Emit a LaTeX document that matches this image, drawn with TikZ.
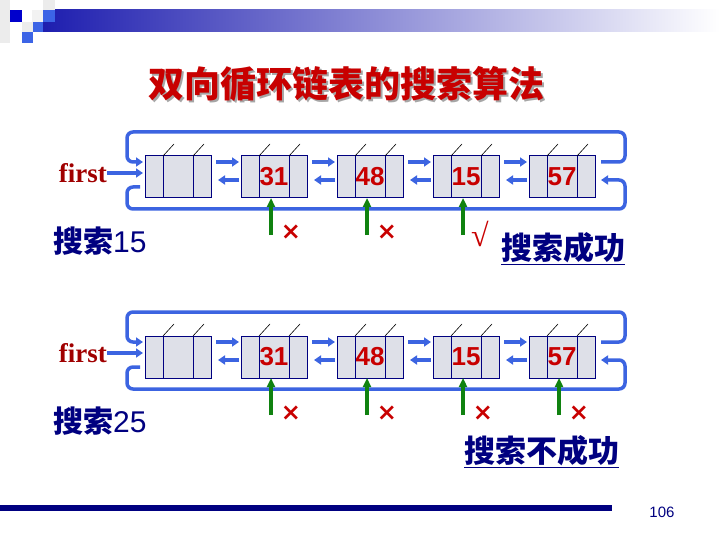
\documentclass[tikz,border=0pt]{standalone}
\usepackage{fontspec}
\setmainfont{Liberation Sans}
\newfontfamily\cjk{Noto Sans CJK SC}
\newfontfamily\timesb{Liberation Serif}
\newfontfamily\symb{DejaVu Sans}
\usepackage{xcolor}
\usetikzlibrary{arrows.meta,positioning,calc}

\definecolor{lnk}{RGB}{60,100,225}
\definecolor{navy}{RGB}{0,0,128}
\definecolor{hit}{RGB}{200,0,0}
\definecolor{fred}{RGB}{160,0,0}
\definecolor{pgreen}{RGB}{16,130,16}
\definecolor{marble}{RGB}{222,224,232}
\definecolor{hdr}{RGB}{30,30,175}
\definecolor{sqblue}{RGB}{60,100,230}

\begin{document}
\begin{tikzpicture}[
  x=1pt, y=-1pt,
  node distance=30pt,
  lnode/.style={draw=navy, line width=1pt, fill=marble, minimum width=66pt, minimum height=42pt, inner sep=0pt, outer sep=0pt, text=hit, font=\bfseries\fontsize{26}{26}\selectfont,
    append after command={([xshift=18pt]\tikzlastnode.north west) edge[draw=navy, line width=1pt] ([xshift=18pt]\tikzlastnode.south west)
      ([xshift=-18pt]\tikzlastnode.north east) edge[draw=navy, line width=1pt] ([xshift=-18pt]\tikzlastnode.south east)
      ([xshift=18pt]\tikzlastnode.north west) edge[draw, line width=.6pt] ([xshift=29pt,yshift=12pt]\tikzlastnode.north west)
      ([xshift=-18pt]\tikzlastnode.north east) edge[draw, line width=.6pt] ([xshift=-7pt,yshift=12pt]\tikzlastnode.north east)}},
  link/.style={draw=lnk, line width=3.5pt, -{Triangle[length=7pt,width=9pt]}},
  ring/.style={link, rounded corners=6pt},
  probe/.style={draw=pgreen, line width=3.5pt, -{Triangle[length=9pt,width=8pt]}},
  miss/.style={text=hit, font=\symb\bfseries\fontsize{24}{24}\selectfont, inner sep=0pt},
  found/.style={text=hit, font=\timesb\fontsize{32}{32}\selectfont, inner sep=0pt},
  firstlbl/.style={text=fred, font=\timesb\bfseries\fontsize{27}{27}\selectfont, inner sep=0pt},
  keylbl/.style={text=navy, font=\fontsize{30}{30}\selectfont, inner sep=0pt},
  reslbl/.style={text=navy, font=\cjk\bfseries\fontsize{31}{31}\selectfont, inner sep=0pt}
]
\useasboundingbox (0,0) rectangle (720,540);

% header
\shade[left color=hdr, right color=white] (43,10) rectangle (720,32);
\fill[gray!15] (0,0) rectangle (10,43);
\fill[gray!15] (43,0) rectangle (55,10);
\fill[gray!10] (32,10) rectangle (43,22);
\fill[gray!15] (22,22) rectangle (33,32);
\fill[blue!80!black] (10,10) rectangle (22,22);
\fill[sqblue] (43,10) rectangle (55,22);
\fill[sqblue] (33,22) rectangle (43,32);
\fill[sqblue] (22,32) rectangle (33,43);

\node[text=gray!70, font=\cjk\bfseries\fontsize{36}{36}\selectfont] (ttlshade) at (348,86) {双向循环链表的搜索算法};
\node[text=hit, font=\cjk\bfseries\fontsize{36}{36}\selectfont] (ttl) at (346,84) {双向循环链表的搜索算法};

% search 15
\node[lnode] (ah) at (178,177) {};
\node[lnode, right=of ah] (a31) {31};
\node[lnode, right=of a31] (a48) {48};
\node[lnode, right=of a48] (a15) {15};
\node[lnode, right=of a15] (a57) {57};
\node[firstlbl, anchor=east] (af) at (107,173) {first};

\draw[link] (af.east) -- ([xshift=-2pt,yshift=4pt]ah.west);
\draw[link] ([xshift=5pt,yshift=15pt]ah.east) -- ([xshift=-2pt,yshift=15pt]a31.west);
\draw[link] ([xshift=-2pt,yshift=-3pt]a31.west) -- ([xshift=7pt,yshift=-3pt]ah.east);
\draw[link] ([xshift=5pt,yshift=15pt]a31.east) -- ([xshift=-2pt,yshift=15pt]a48.west);
\draw[link] ([xshift=-2pt,yshift=-3pt]a48.west) -- ([xshift=7pt,yshift=-3pt]a31.east);
\draw[link] ([xshift=5pt,yshift=15pt]a48.east) -- ([xshift=-2pt,yshift=15pt]a15.west);
\draw[link] ([xshift=-2pt,yshift=-3pt]a15.west) -- ([xshift=7pt,yshift=-3pt]a48.east);
\draw[link] ([xshift=5pt,yshift=15pt]a15.east) -- ([xshift=-2pt,yshift=15pt]a57.west);
\draw[link] ([xshift=-2pt,yshift=-3pt]a57.west) -- ([xshift=7pt,yshift=-3pt]a15.east);
\draw[ring] ([xshift=6pt,yshift=15pt]a57.east) -- ++(24,0) -- ++(0,-30) -| ([xshift=-18pt,yshift=15pt]ah.west) -- ([xshift=-2pt,yshift=15pt]ah.west);
\draw[ring] ([xshift=-5pt,yshift=-10pt]ah.west) -- ++(-13,0) -- ++(0,22) -| ([xshift=30pt,yshift=-3pt]a57.east) -- ([xshift=6pt,yshift=-3pt]a57.east);

\draw[probe] ([xshift=-3pt,yshift=-37pt]a31.south) -- ([xshift=-3pt]a31.south);
\draw[probe] ([xshift=-3pt,yshift=-37pt]a48.south) -- ([xshift=-3pt]a48.south);
\draw[probe] ([xshift=-3pt,yshift=-37pt]a15.south) -- ([xshift=-3pt]a15.south);
\node[miss] (ax31) at ([xshift=17pt,yshift=-34pt]a31.south) {×};
\node[miss] (ax48) at ([xshift=17pt,yshift=-34pt]a48.south) {×};
\node[found] (aok15) at ([xshift=14pt,yshift=-36pt]a15.south) {√};
\node[keylbl, anchor=west] (akey) at (53,241) {{\cjk\bfseries 搜索}15};
\node[reslbl, anchor=west] (ares) at (501,249) {\underline{搜索成功}};

% search 25
\node[lnode] (bh) at (178,357) {};
\node[lnode, right=of bh] (b31) {31};
\node[lnode, right=of b31] (b48) {48};
\node[lnode, right=of b48] (b15) {15};
\node[lnode, right=of b15] (b57) {57};
\node[firstlbl, anchor=east] (bf) at (107,353) {first};

\draw[link] (bf.east) -- ([xshift=-2pt,yshift=4pt]bh.west);
\draw[link] ([xshift=5pt,yshift=15pt]bh.east) -- ([xshift=-2pt,yshift=15pt]b31.west);
\draw[link] ([xshift=-2pt,yshift=-3pt]b31.west) -- ([xshift=7pt,yshift=-3pt]bh.east);
\draw[link] ([xshift=5pt,yshift=15pt]b31.east) -- ([xshift=-2pt,yshift=15pt]b48.west);
\draw[link] ([xshift=-2pt,yshift=-3pt]b48.west) -- ([xshift=7pt,yshift=-3pt]b31.east);
\draw[link] ([xshift=5pt,yshift=15pt]b48.east) -- ([xshift=-2pt,yshift=15pt]b15.west);
\draw[link] ([xshift=-2pt,yshift=-3pt]b15.west) -- ([xshift=7pt,yshift=-3pt]b48.east);
\draw[link] ([xshift=5pt,yshift=15pt]b15.east) -- ([xshift=-2pt,yshift=15pt]b57.west);
\draw[link] ([xshift=-2pt,yshift=-3pt]b57.west) -- ([xshift=7pt,yshift=-3pt]b15.east);
\draw[ring] ([xshift=6pt,yshift=15pt]b57.east) -- ++(24,0) -- ++(0,-30) -| ([xshift=-18pt,yshift=15pt]bh.west) -- ([xshift=-2pt,yshift=15pt]bh.west);
\draw[ring] ([xshift=-5pt,yshift=-10pt]bh.west) -- ++(-13,0) -- ++(0,22) -| ([xshift=30pt,yshift=-3pt]b57.east) -- ([xshift=6pt,yshift=-3pt]b57.east);

\draw[probe] ([xshift=-3pt,yshift=-37pt]b31.south) -- ([xshift=-3pt]b31.south);
\draw[probe] ([xshift=-3pt,yshift=-37pt]b48.south) -- ([xshift=-3pt]b48.south);
\draw[probe] ([xshift=-3pt,yshift=-37pt]b15.south) -- ([xshift=-3pt]b15.south);
\draw[probe] ([xshift=-3pt,yshift=-37pt]b57.south) -- ([xshift=-3pt]b57.south);
\node[miss] (bx31) at ([xshift=17pt,yshift=-35pt]b31.south) {×};
\node[miss] (bx48) at ([xshift=17pt,yshift=-35pt]b48.south) {×};
\node[miss] (bx15) at ([xshift=17pt,yshift=-35pt]b15.south) {×};
\node[miss] (bx57) at ([xshift=17pt,yshift=-35pt]b57.south) {×};
\node[keylbl, anchor=west] (bkey) at (53,421) {{\cjk\bfseries 搜索}25};
\node[reslbl, anchor=west] (bres) at (464,452) {\underline{搜索不成功}};

% footer
\fill[navy] (0,505) rectangle (612,511);
\node[text=navy, font=\fontsize{15}{15}\selectfont] (pg) at (662,512) {106};
\end{tikzpicture}
\end{document}
